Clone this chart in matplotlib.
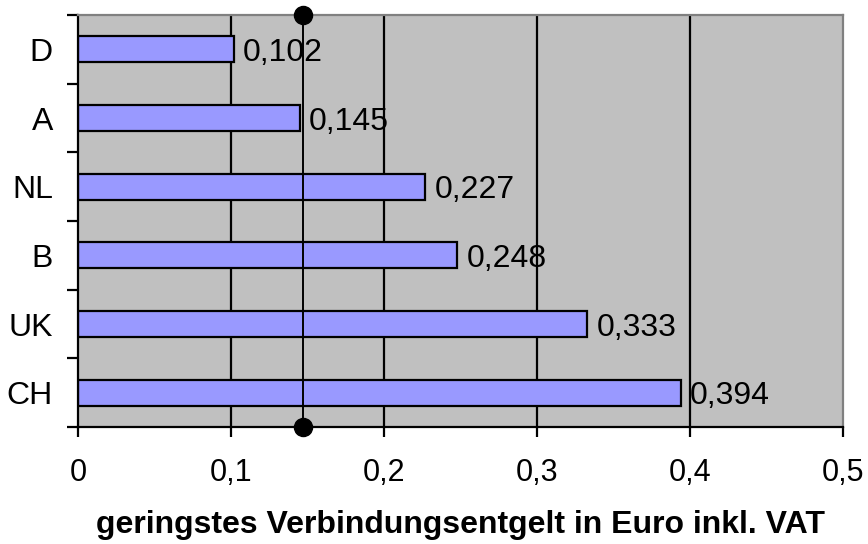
import matplotlib.pyplot as plt
import numpy as np

countries = ["D", "A", "NL", "B", "UK", "CH"]
prices = [0.102, 0.145, 0.227, 0.248, 0.333, 0.394]
marker_value = 0.147
xticks = [0, 0.1, 0.2, 0.3, 0.4, 0.5]

plt.rcParams['font.family'] = ['Liberation Sans', 'DejaVu Sans']

fig = plt.figure(figsize=(8.68, 5.44), dpi=100)
ax = fig.add_axes([78 / 868, 1 - 427 / 544, (843 - 78) / 868, (427 - 15) / 544])
ax.set_facecolor("#C0C0C0")

y = np.arange(len(countries))
ax.set_xlim(0, 0.5)
ax.set_ylim(len(countries) - 0.5, -0.5)

for xv in xticks[1:-1]:
    ax.axvline(xv, color="black", lw=1.6, zorder=1.5)

ax.barh(y, prices, height=0.38, color="#9999FF", edgecolor="black", lw=1.6, zorder=2)
for yi, v in zip(y, prices):
    ax.text(v + 0.006, yi, ("%.3f" % v).replace(".", ","), va="center_baseline",
            ha="left", fontsize=23, zorder=1.2)

# reference line with round end markers
ax.plot([marker_value, marker_value], [-0.5, len(countries) - 0.5], color="black",
        lw=1.4, zorder=3, clip_on=False)
ax.plot([marker_value, marker_value], [-0.5, len(countries) - 0.5], "o", color="black",
        ms=13, zorder=5, clip_on=False)

ax.set_xticks(xticks)
ax.set_xticklabels([("%g" % t).replace(".", ",") for t in xticks], fontsize=22)
ax.set_yticks(y)
ax.set_yticklabels(countries, fontsize=23)
ax.set_yticks(np.arange(len(countries) + 1) - 0.5, minor=True)
ax.tick_params(axis="y", which="major", length=0, pad=18)
ax.tick_params(axis="y", which="minor", length=8, width=1.6, direction="out")
ax.tick_params(axis="x", length=7, width=1.6, direction="out", pad=15)

for s in ["left", "bottom"]:
    ax.spines[s].set_color("black")
    ax.spines[s].set_linewidth(1.6)
for s in ["top", "right"]:
    ax.spines[s].set_color("#808080")
    ax.spines[s].set_linewidth(1.6)

ax.set_xlabel("geringstes Verbindungsentgelt in Euro inkl. VAT", fontsize=23,
              fontweight="bold", labelpad=16)

fig.savefig("out.png", dpi=100)
